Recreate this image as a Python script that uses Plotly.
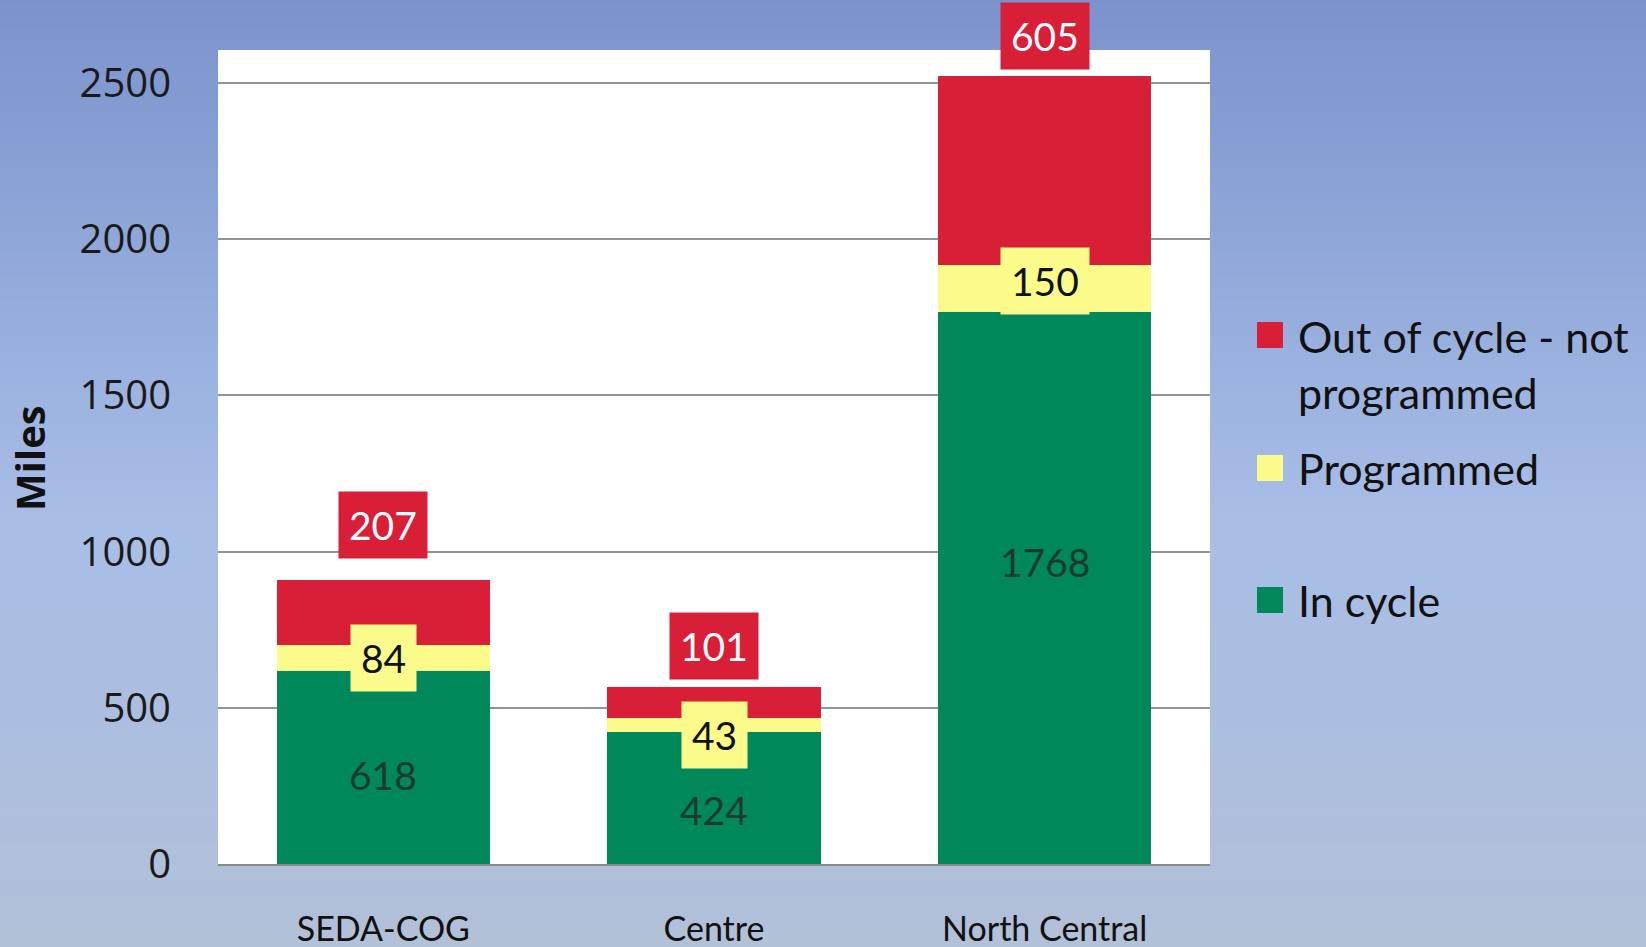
import plotly.graph_objects as go

categories = ["SEDA-COG", "Centre", "North Central"]
in_cycle = [618, 424, 1768]
programmed = [84, 43, 150]
out_of_cycle = [207, 101, 605]
series_names = ["In cycle", "Programmed", "Out of cycle - not programmed"]
y_ticks = [0, 500, 1000, 1500, 2000, 2500]

colors = {"In cycle": "#00885a", "Programmed": "#fbfb8c", "Out of cycle - not programmed": "#d91f38"}

W, H = 1646, 947
ML, MR, MT, MB = 218, 436, 50, 83
fig = go.Figure()

series_vals = [in_cycle, programmed, out_of_cycle]
for name, vals in zip(series_names, series_vals):
    fig.add_trace(go.Bar(x=categories, y=vals, name=name, marker_color=colors[name],
                         marker_line_width=0, width=0.645, showlegend=False, hoverinfo="x+y+name"))

annotations = []
label_font = "Lato, 'Open Sans', sans-serif"
# green labels (no box)
green_shift = [-8, -12, 26]
for i, c in enumerate(categories):
    annotations.append(dict(x=c, y=in_cycle[i] / 2, text=str(in_cycle[i]), showarrow=False,
                            font=dict(family=label_font, size=39, color="#1c3a32"),
                            yshift=green_shift[i]))
# yellow labels (boxed)
yel_shift = [0, -10, 7]
for i, c in enumerate(categories):
    annotations.append(dict(x=c, y=in_cycle[i] + programmed[i] / 2, text=str(programmed[i]),
                            showarrow=False, bgcolor=colors["Programmed"], borderpad=10,
                            font=dict(family=label_font, size=39, color="#111111"),
                            yshift=yel_shift[i]))
# red labels (boxed, above bar)
red_shift = [21, 7, 6]
for i, c in enumerate(categories):
    total = in_cycle[i] + programmed[i] + out_of_cycle[i]
    annotations.append(dict(x=c, y=total, text=str(out_of_cycle[i]), showarrow=False,
                            yanchor="bottom", bgcolor=colors["Out of cycle - not programmed"], borderpad=10,
                            font=dict(family=label_font, size=39, color="#ffffff"),
                            yshift=red_shift[i]))

shapes = []
# background gradient bands
n = 80
top = (123, 147, 205)
mid = (168, 190, 231)
bot = (178, 192, 216)
plot_w = W - ML - MR
plot_h = H - MT - MB
y_top_paper = (H - MB) / plot_h
y_bot_paper = -MB / plot_h
span = y_top_paper - y_bot_paper
for k in range(n):
    t = k / (n - 1)
    if t < 0.55:
        u = t / 0.55
        col = tuple(int(top[j] + (mid[j] - top[j]) * u) for j in range(3))
    else:
        u = (t - 0.55) / 0.45
        col = tuple(int(mid[j] + (bot[j] - mid[j]) * u) for j in range(3))
    shapes.append(dict(type="rect", xref="paper", yref="paper", layer="below",
                       x0=-0.5, x1=1.6,
                       y0=y_top_paper - (k + 1) * span / n - 0.01,
                       y1=y_top_paper - k * span / n + 0.01,
                       fillcolor="rgb(%d,%d,%d)" % col, line_width=0))
# white plot area
shapes.append(dict(type="rect", xref="paper", yref="paper", layer="below",
                   x0=0, x1=1, y0=0, y1=1, fillcolor="#ffffff", line_width=0))


def px_x(px):
    return (px - ML) / plot_w


def px_y(py):
    return (H - MB - py) / plot_h


legend_items = [("Out of cycle - not programmed", "Out of cycle - not<br>programmed", 335, 365),
                ("Programmed", "Programmed", 468, 468),
                ("In cycle", "In cycle", 600, 600)]
for name, txt, sq_y, txt_y in legend_items:
    shapes.append(dict(type="rect", xref="paper", yref="paper",
                       x0=px_x(1257), x1=px_x(1283), y0=px_y(sq_y + 13), y1=px_y(sq_y - 13),
                       fillcolor=colors[name], line_width=0))
    annotations.append(dict(xref="paper", yref="paper", x=px_x(1296), y=px_y(txt_y),
                            xanchor="left", yanchor="middle", align="left", text=txt, showarrow=False,
                            font=dict(family=label_font, size=43, color="#111111")))

# Miles title
annotations.append(dict(xref="paper", yref="paper", x=px_x(30), y=px_y(458), text="<b>Miles</b>",
                        textangle=-90, showarrow=False, xanchor="center", yanchor="middle",
                        font=dict(family="'Open Sans', sans-serif", size=40, color="#111111")))

fig.update_layout(
    width=W, height=H,
    margin=dict(l=ML, r=MR, t=MT, b=MB, autoexpand=False),
    paper_bgcolor="rgb(178,192,216)",
    plot_bgcolor="#ffffff",
    barmode="stack",
    bargap=0.355,
    annotations=annotations,
    shapes=shapes,
    xaxis=dict(tickfont=dict(family=label_font, size=34, color="#111111"), ticklabelstandoff=34,
               automargin=False,
               showline=True, linecolor="#8a8a8a", linewidth=2, ticks="", fixedrange=True),
    yaxis=dict(range=[0, 2605], tickvals=y_ticks, ticktext=[str(v) for v in y_ticks],
               automargin=False,
               tickfont=dict(family="'Open Sans', sans-serif", size=40, color="#1a1a1a"),
               ticklabelstandoff=46, showgrid=True, gridcolor="#939393", gridwidth=2,
               zeroline=False, showline=False, ticks=""),
    showlegend=False,
)

fig.write_html("out.html", config={"displayModeBar": False},
               post_script="document.body.style.margin='0';document.body.style.overflow='hidden';")
